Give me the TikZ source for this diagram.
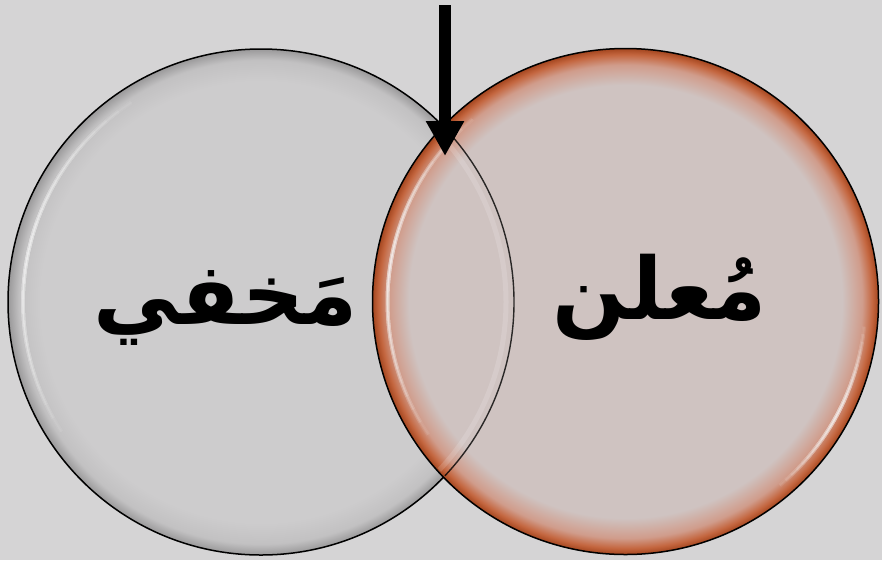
\documentclass[tikz,border=0pt]{standalone}
\usepackage{fontspec}
\newfontfamily\arabicfont[Script=Arabic]{DejaVu Sans}
\TeXXeTstate=1
\usetikzlibrary{arrows.meta,calc}
\definecolor{bg}{HTML}{D5D4D5}
\definecolor{lfill}{HTML}{CDCCCD}
\definecolor{lrimA}{HTML}{C2C1C2}
\definecolor{lrimB}{HTML}{9A999A}
\definecolor{rfill}{HTML}{CFC3C1}
\definecolor{rrimA}{HTML}{D09C8B}
\definecolor{rrimB}{HTML}{C4663F}
\definecolor{rrimC}{HTML}{A4461F}
\pgfdeclareradialshading{leftball}{\pgfpointorigin}{color(0bp)=(lfill); color(21.8bp)=(lfill); color(23.9bp)=(lrimA); color(25bp)=(lrimB); color(50bp)=(lrimB)}
\pgfdeclareradialshading{rightball}{\pgfpointorigin}{color(0bp)=(rfill); color(21.4bp)=(rfill); color(23.4bp)=(rrimA); color(24.4bp)=(rrimB); color(25bp)=(rrimC); color(50bp)=(rrimC)}
\tikzset{
  ball/.style={circle, inner sep=0pt, minimum size=506pt, draw=black, line width=1.5pt},
  word/.style={font=\arabicfont\bfseries\fontsize{86}{100}\selectfont, inner sep=0pt},
  shine/.style={white, line cap=butt},
}
% #1 centre, #2 radius, #3 middle angle, #4 half span, #5 line width, #6 step opacity
\newcommand\shinearc[6]{%
  \foreach \k in {1,...,12}{
    \pgfmathsetmacro\hs{#4*\k/12}
    \draw[shine, line width=#5, opacity=#6] ($(#1)+({#3-\hs}:#2)$) arc[start angle={#3-\hs}, end angle={#3+\hs}, radius=#2];
  }}
\begin{document}
\begin{tikzpicture}[x=1pt,y=-1pt]
\useasboundingbox[fill=bg] (0,0) rectangle (882,560);
% left circle
\node[ball, shading=leftball] (L) at (261,302) {};
\shinearc{L.center}{238}{192}{45}{4pt}{0.06}
\shinearc{L.center}{238}{192}{45}{1.6pt}{0.06}
\node[word] (Ltext) at (226,308) {\beginR مَخفي\endR};
% right circle
\node[ball, shading=rightball] (R) at (625.5,301.5) {};
\shinearc{R.center}{238}{188}{42}{4pt}{0.07}
\shinearc{R.center}{238}{188}{42}{1.6pt}{0.07}
\shinearc{R.center}{240}{28}{22}{4pt}{0.07}
\shinearc{R.center}{240}{28}{22}{1.6pt}{0.07}
% left outline seen through the right circle
\begin{scope}
  \clip (R.center) circle[radius=251];
  \draw[white, line width=5pt, opacity=0.15] (L.center) circle[radius=245];
  \draw[black, line width=1.4pt, opacity=0.8] (L.center) circle[radius=253];
\end{scope}
\node[word] (Rtext) at (660,297) {\beginR مُعلن\endR};
% arrow
\coordinate (atop) at (445,5);
\coordinate (atip) at (445,156);
\draw[line width=12pt, -{Triangle[width=36pt,length=35pt]}] (atop) -- (atip);
\end{tikzpicture}
\end{document}
